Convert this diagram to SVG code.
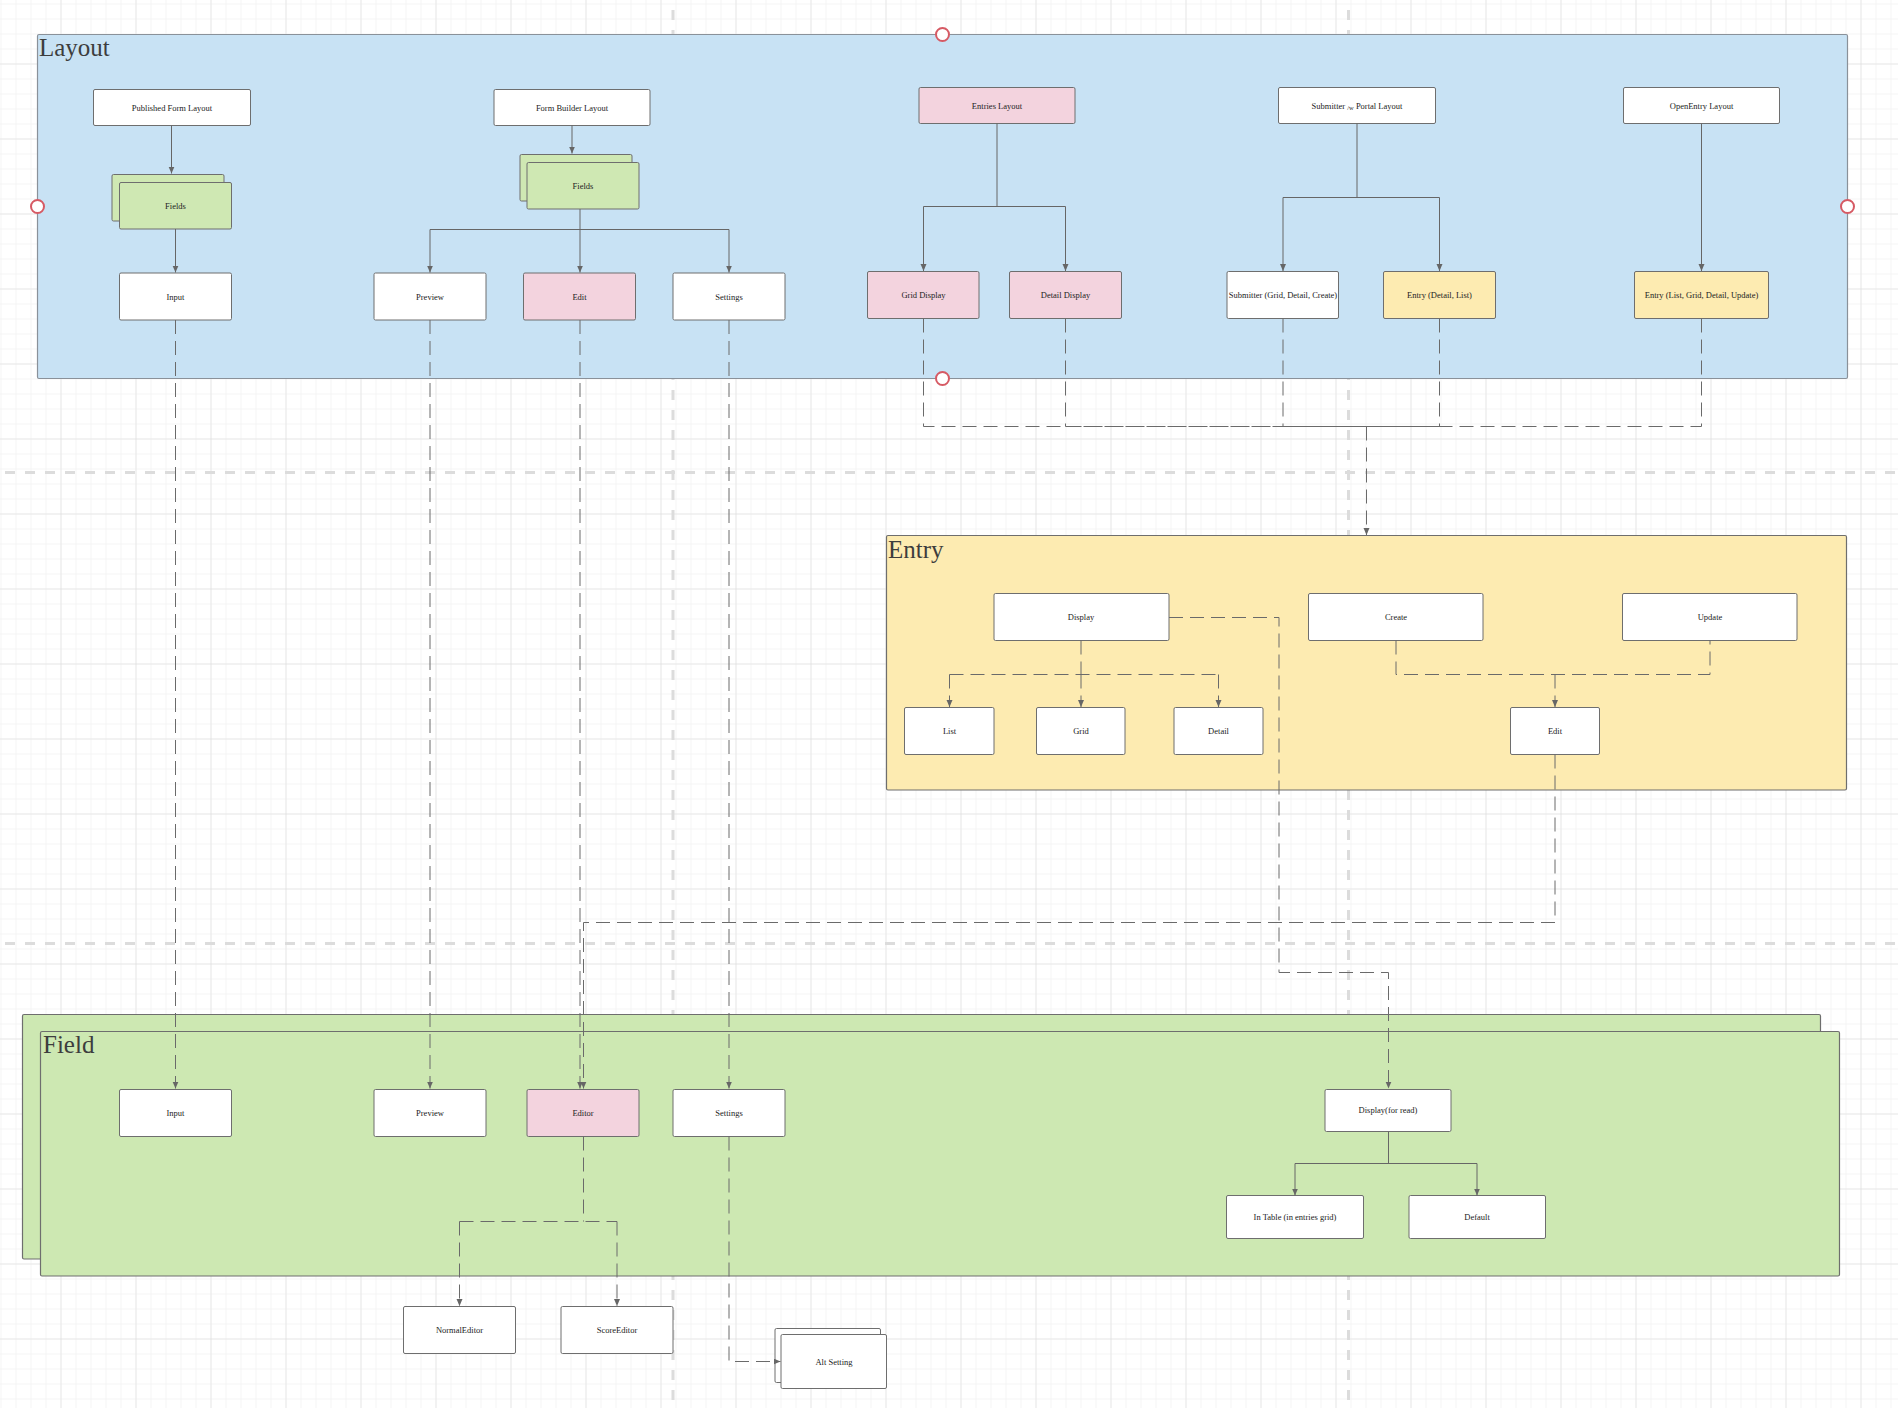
<svg xmlns="http://www.w3.org/2000/svg" width="1898" height="1408" viewBox="0 0 1898 1408">
<style>
.bg{fill:#ffffff}
.pb{stroke:#dcdcdc;stroke-width:3;stroke-dasharray:10 10;fill:none}
.cont{stroke:#6e6e6e;stroke-width:1.2}
.lay{fill:#c8e2f4;stroke:#8a9199}
.ent{fill:#fdebb1}
.fld{fill:#cde8b2}
.box{stroke:#6e6e6e;stroke-width:1}
.w{fill:#ffffff}
.p{fill:#f3d3de}
.y{fill:#fdebb1}
.g{fill:#cfe8b3}
.t{font-family:"Liberation Serif","Times New Roman",serif;font-size:8.5px;fill:#222;text-anchor:middle;dominant-baseline:central}
.lbl{font-family:"Liberation Serif","Times New Roman",serif;font-size:25px;fill:#3d3d3d}
.s{stroke:#666;stroke-width:1;fill:none}
.d{stroke:#6a6a6a;stroke-width:1;fill:none;stroke-dasharray:14 7}
.h{fill:#fff;stroke:#d65a64;stroke-width:2}
</style>
<defs>
<pattern id="gm" width="15" height="15" patternUnits="userSpaceOnUse" x="0.5" y="3.5"><path d="M15 0H0V15" fill="none" stroke="#ececec" stroke-width="1"/></pattern>
<pattern id="gM" width="75" height="75" patternUnits="userSpaceOnUse" x="60.5" y="63.5"><path d="M75 0H0V75" fill="none" stroke="#dadada" stroke-width="1"/></pattern>
<marker id="a" markerWidth="8" markerHeight="8" refX="7" refY="3" orient="auto" markerUnits="userSpaceOnUse"><path d="M0,0 L7,3 L0,6 z" fill="#666"/></marker>
</defs>

<g id="background">
<rect class="bg" x="0" y="0" width="1898" height="1408"/>
<rect x="0" y="0" width="1898" height="1408" fill="url(#gm)"/>
<rect x="0" y="0" width="1898" height="1408" fill="url(#gM)"/>
<path class="pb" d="M673 10V1408M1348.5 10V1408M5 472.5H1898M5 943.5H1898"/>
</g>

<g id="layout-container">
<rect class="cont lay" x="37.5" y="34.5" width="1810" height="344" rx="1.5"/>
<text class="lbl" x="39" y="56">Layout</text>
</g>
<g id="entry-container">
<rect class="cont ent" x="886.5" y="535.5" width="960" height="254.5" rx="1.5"/>
<text class="lbl" x="888" y="558">Entry</text>
</g>
<g id="field-container">
<rect class="cont fld" x="22.5" y="1014.5" width="1798" height="244.5" rx="1.5"/>
<rect class="cont fld" x="40.5" y="1031.5" width="1799" height="244.5" rx="1.5"/>
<text class="lbl" x="43" y="1053">Field</text>
</g>

<g id="n-published-form-layout"><rect class="box w" x="93.5" y="89.5" width="157" height="36" rx="1.5"/><text class="t" x="172" y="107.5">Published Form Layout</text></g>
<g id="n-form-builder-layout"><rect class="box w" x="494" y="89.5" width="156" height="36" rx="1.5"/><text class="t" x="572" y="107.5">Form Builder Layout</text></g>
<g id="n-entries-layout"><rect class="box p" x="919" y="87.5" width="156" height="36" rx="1.5"/><text class="t" x="997" y="105.5">Entries Layout</text></g>
<g id="n-submitter-portal-layout"><rect class="box w" x="1278.5" y="87.5" width="157" height="36" rx="1.5"/><text class="t" x="1357" y="105.5">Submitter <tspan font-size="6.5" dy="1.5">/w</tspan><tspan dy="-1.5"> Portal  Layout</tspan></text></g>
<g id="n-openentry-layout"><rect class="box w" x="1623.5" y="87.5" width="156" height="36" rx="1.5"/><text class="t" x="1701.5" y="105.5">OpenEntry Layout</text></g>

<g id="n-fields-1"><rect class="box g" x="112" y="174.5" width="112" height="46.5" rx="1.5"/><rect class="box g" x="119.5" y="182.5" width="112" height="46.5" rx="1.5"/><text class="t" x="175.5" y="205.5">Fields</text></g>
<g id="n-fields-2"><rect class="box g" x="520" y="154.5" width="112" height="46.5" rx="1.5"/><rect class="box g" x="527" y="162.5" width="112" height="46.5" rx="1.5"/><text class="t" x="583" y="185.5">Fields</text></g>

<g id="n-layout-input"><rect class="box w" x="119.5" y="273" width="112" height="47" rx="1.5"/><text class="t" x="175.5" y="296.5">Input</text></g>
<g id="n-layout-preview"><rect class="box w" x="374" y="273" width="112" height="47" rx="1.5"/><text class="t" x="430" y="296.5">Preview</text></g>
<g id="n-layout-edit"><rect class="box p" x="523.5" y="273" width="112" height="47" rx="1.5"/><text class="t" x="579.5" y="296.5">Edit</text></g>
<g id="n-layout-settings"><rect class="box w" x="673" y="273" width="112" height="47" rx="1.5"/><text class="t" x="729" y="296.5">Settings</text></g>
<g id="n-grid-display"><rect class="box p" x="867.5" y="271.5" width="111.5" height="47" rx="1.5"/><text class="t" x="923.5" y="294.5">Grid Display</text></g>
<g id="n-detail-display"><rect class="box p" x="1009.5" y="271.5" width="112" height="47" rx="1.5"/><text class="t" x="1065.5" y="294.5">Detail Display</text></g>
<g id="n-submitter-gdc"><rect class="box w" x="1227" y="271.5" width="111.5" height="47" rx="1.5"/><text class="t" x="1283" y="294.5">Submitter (Grid, Detail, Create)</text></g>
<g id="n-entry-dl"><rect class="box y" x="1383.5" y="271.5" width="112" height="47" rx="1.5"/><text class="t" x="1439.5" y="294.5">Entry (Detail, List)</text></g>
<g id="n-entry-lgdu"><rect class="box y" x="1634.5" y="271.5" width="134" height="47" rx="1.5"/><text class="t" x="1701.5" y="294.5">Entry (List, Grid, Detail, Update)</text></g>

<g id="n-entry-display"><rect class="box w" x="994" y="593.5" width="175" height="47" rx="1.5"/><text class="t" x="1081" y="616.5">Display</text></g>
<g id="n-entry-create"><rect class="box w" x="1308.5" y="593.5" width="174.5" height="47" rx="1.5"/><text class="t" x="1396" y="616.5">Create</text></g>
<g id="n-entry-update"><rect class="box w" x="1622.5" y="593.5" width="174.5" height="47" rx="1.5"/><text class="t" x="1710" y="616.5">Update</text></g>
<g id="n-entry-list"><rect class="box w" x="904.5" y="707.5" width="89.5" height="47" rx="1.5"/><text class="t" x="949.5" y="730.5">List</text></g>
<g id="n-entry-grid"><rect class="box w" x="1036.5" y="707.5" width="88.5" height="47" rx="1.5"/><text class="t" x="1081" y="730.5">Grid</text></g>
<g id="n-entry-detail"><rect class="box w" x="1174" y="707.5" width="89" height="47" rx="1.5"/><text class="t" x="1218.5" y="730.5">Detail</text></g>
<g id="n-entry-edit"><rect class="box w" x="1510.5" y="707.5" width="89" height="47" rx="1.5"/><text class="t" x="1555" y="730.5">Edit</text></g>

<g id="n-field-input"><rect class="box w" x="119.5" y="1089.5" width="112" height="47" rx="1.5"/><text class="t" x="175.5" y="1112.5">Input</text></g>
<g id="n-field-preview"><rect class="box w" x="374" y="1089.5" width="112" height="47" rx="1.5"/><text class="t" x="430" y="1112.5">Preview</text></g>
<g id="n-field-editor"><rect class="box p" x="527" y="1089.5" width="112" height="47" rx="1.5"/><text class="t" x="583" y="1112.5">Editor</text></g>
<g id="n-field-settings"><rect class="box w" x="673" y="1089.5" width="112" height="47" rx="1.5"/><text class="t" x="729" y="1112.5">Settings</text></g>
<g id="n-field-display-read"><rect class="box w" x="1325" y="1089.5" width="126" height="42" rx="1.5"/><text class="t" x="1388" y="1110">Display(for read)</text></g>
<g id="n-in-table"><rect class="box w" x="1226.5" y="1195.5" width="137" height="43" rx="1.5"/><text class="t" x="1295" y="1216.5">In Table (in entries grid)</text></g>
<g id="n-default"><rect class="box w" x="1409" y="1195.5" width="136.5" height="43" rx="1.5"/><text class="t" x="1477" y="1216.5">Default</text></g>
<g id="n-normal-editor"><rect class="box w" x="403.5" y="1306.5" width="112" height="47" rx="1.5"/><text class="t" x="459.5" y="1329.5">NormalEditor</text></g>
<g id="n-score-editor"><rect class="box w" x="561" y="1306.5" width="112" height="47" rx="1.5"/><text class="t" x="617" y="1329.5">ScoreEditor</text></g>
<g id="n-alt-setting"><rect class="box w" x="775" y="1328.5" width="105.5" height="54" rx="1.5"/><rect class="box w" x="781" y="1334.5" width="105.5" height="54" rx="1.5"/><text class="t" x="834" y="1361.5">Alt Setting</text></g>

<g id="connectors">
<path class="s" marker-end="url(#a)" d="M171.5 125.5V173.5"/>
<path class="s" marker-end="url(#a)" d="M175.5 229V272.5"/>
<path class="s" marker-end="url(#a)" d="M572 125.5V153.5"/>
<path class="s" d="M580 209V229.5M430 229.5H729"/>
<path class="s" marker-end="url(#a)" d="M430 229.5V272.5"/>
<path class="s" marker-end="url(#a)" d="M580 229.5V272.5"/>
<path class="s" marker-end="url(#a)" d="M729 229.5V272.5"/>
<path class="s" d="M997 123.5V206.5M923.5 206.5H1065.5"/>
<path class="s" marker-end="url(#a)" d="M923.5 206.5V271"/>
<path class="s" marker-end="url(#a)" d="M1065.5 206.5V271"/>
<path class="s" d="M1357 123.5V197.5M1283 197.5H1439.5"/>
<path class="s" marker-end="url(#a)" d="M1283 197.5V271"/>
<path class="s" marker-end="url(#a)" d="M1439.5 197.5V271"/>
<path class="s" marker-end="url(#a)" d="M1701.5 123.5V271"/>
<path class="d" marker-end="url(#a)" d="M175.5 320V1088.5"/>
<path class="d" marker-end="url(#a)" d="M430 320V1088.5"/>
<path class="d" marker-end="url(#a)" d="M580 320V1088.5"/>
<path class="d" marker-end="url(#a)" d="M729 320V1088.5"/>
<path class="d" d="M923.5 318.5V426.5H1366.5"/>
<path class="d" d="M1065.5 318.5V426.5H1366.5"/>
<path class="d" d="M1283 318.5V426.5H1366.5"/>
<path class="d" d="M1439.5 318.5V426.5H1366.5"/>
<path class="d" d="M1701.5 318.5V426.5H1366.5"/>
<path class="d" marker-end="url(#a)" d="M1366.5 426.5V535"/>
<path class="d" d="M1081 640.5V674.5M949.5 674.5H1218.5"/>
<path class="d" marker-end="url(#a)" d="M949.5 674.5V707"/>
<path class="d" marker-end="url(#a)" d="M1081 674.5V707"/>
<path class="d" marker-end="url(#a)" d="M1218.5 674.5V707"/>
<path class="d" d="M1396 640.5V674.5H1710V640.5"/>
<path class="d" marker-end="url(#a)" d="M1555 674.5V707"/>
<path class="d" marker-end="url(#a)" d="M1169 617.5H1279V972.5H1388.5V1088.5"/>
<path class="d" marker-end="url(#a)" d="M1555 754.5V922.5H583.5V1088.5"/>
<path class="s" d="M1388.5 1131.5V1163.5M1295 1163.5H1477"/>
<path class="s" marker-end="url(#a)" d="M1295 1163.5V1195.5"/>
<path class="s" marker-end="url(#a)" d="M1477 1163.5V1195.5"/>
<path class="d" d="M583.5 1136.5V1221.5M459.5 1221.5H617"/>
<path class="d" marker-end="url(#a)" d="M459.5 1221.5V1306"/>
<path class="d" marker-end="url(#a)" d="M617 1221.5V1306"/>
<path class="d" marker-end="url(#a)" d="M729 1136.5V1361.5H780.5"/>
</g>

<g id="handles">
<circle class="h" cx="942.5" cy="34.5" r="6.5"/>
<circle class="h" cx="37.5" cy="206.5" r="6.5"/>
<circle class="h" cx="1847.5" cy="206.5" r="6.5"/>
<circle class="h" cx="942.5" cy="378.5" r="6.5"/>
</g>
</svg>
